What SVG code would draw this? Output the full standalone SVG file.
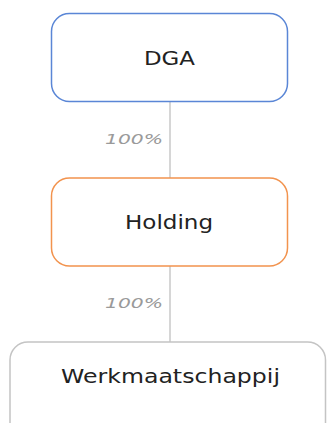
<svg xmlns="http://www.w3.org/2000/svg" width="327" height="423" viewBox="0 0 327 423">
<style>
.box{fill:#fff;stroke-width:1.5}
.lbl{font-family:"DejaVu Sans",Verdana,sans-serif;font-size:19px;fill:#222}
.pct{font-family:"DejaVu Sans",Verdana,sans-serif;font-size:14px;font-style:italic;fill:#9a9a9a}
.conn{stroke:#c8c8c8;stroke-width:1.5;fill:none}
</style>
<rect width="327" height="423" fill="#fff"/>
<g id="connectors">
<line class="conn" x1="170" y1="102" x2="170" y2="178"/>
<line class="conn" x1="170" y1="266" x2="170" y2="342"/>
<text class="pct" x="163" y="144" text-anchor="end" textLength="58" lengthAdjust="spacingAndGlyphs">100%</text>
<text class="pct" x="163" y="308" text-anchor="end" textLength="58" lengthAdjust="spacingAndGlyphs">100%</text>
</g>
<g id="dga">
<rect class="box" x="51.5" y="13.5" width="236" height="88" rx="18" stroke="#5a86d6"/>
<text class="lbl" x="144" y="65" textLength="51" lengthAdjust="spacingAndGlyphs">DGA</text>
</g>
<g id="holding">
<rect class="box" x="51.5" y="178" width="236" height="88" rx="18" stroke="#f2934e"/>
<text class="lbl" x="125" y="229" textLength="88" lengthAdjust="spacingAndGlyphs">Holding</text>
</g>
<g id="werkmaatschappij">
<rect class="box" x="10" y="342" width="315.5" height="100" rx="18" stroke="#c4c4c4"/>
<text class="lbl" x="61" y="383" textLength="219" lengthAdjust="spacingAndGlyphs">Werkmaatschappij</text>
</g>
</svg>
